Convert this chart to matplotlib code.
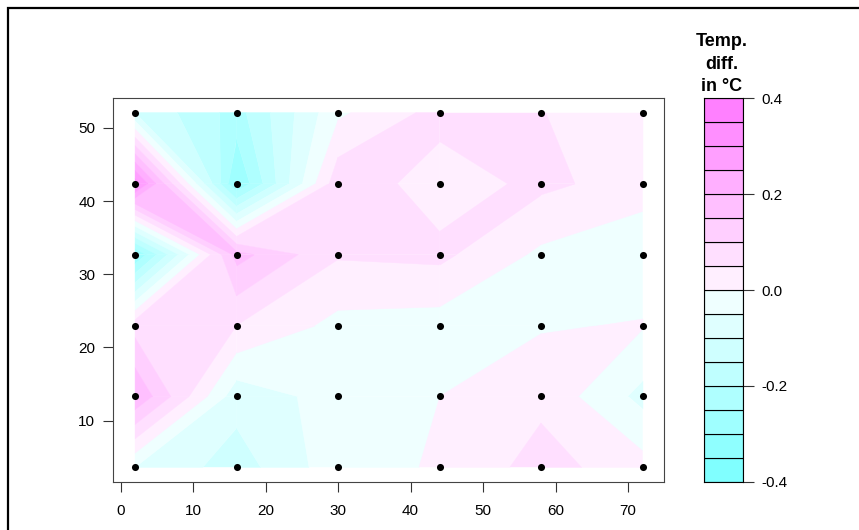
import numpy as np
import matplotlib
matplotlib.use('Agg')
import matplotlib.pyplot as plt
from matplotlib.colors import hsv_to_rgb
from matplotlib.patches import Rectangle
from matplotlib.collections import PolyCollection

plt.rcParams['font.family'] = ['Liberation Sans', 'DejaVu Sans']

# sensor grid
x_pos = [2, 16, 30, 44, 58, 72]
y_pos = [3.6, 13.3, 23.0, 32.7, 42.4, 52.1]

# temperature difference (degC), one list per row, bottom row first
row_y04 = [-0.05, -0.125, -0.02, 0.005, 0.07, 0.02]
row_y13 = [0.198, -0.08, -0.03, 0.0, 0.038, -0.065]
row_y23 = [0.08, 0.05, -0.015, -0.022, -0.005, 0.004]
row_y33 = [-0.30, 0.17, 0.055, 0.062, -0.01, -0.04]
row_y42 = [0.33, -0.30, 0.085, 0.025, 0.062, 0.026]
row_y52 = [-0.10, -0.22, -0.01, 0.068, 0.051, 0.03]

levels = np.arange(-0.4, 0.4001, 0.05)
cbar_ticks = [-0.4, -0.2, 0.0, 0.2, 0.4]


def cm_colors(n):
    # same as R's cm.colors() for even n
    k = n // 2
    s1 = np.linspace(0.5, 0.5 / k, k)
    s2 = np.linspace(0, 0.5, k + 1)[1:]
    return ([hsv_to_rgb((6 / 12, s, 1)) for s in s1] +
            [hsv_to_rgb((10 / 12, s, 1)) for s in s2])


def edge_points(lo, hi, p1, p2, z1, z2):
    pts = []
    if lo <= z1 <= hi:
        pts.append(p1)
    ts = []
    for lev in (lo, hi):
        if (z1 - lev) * (z2 - lev) < 0:
            ts.append((lev - z1) / (z2 - z1))
    for t in sorted(ts):
        pts.append((p1[0] + t * (p2[0] - p1[0]), p1[1] + t * (p2[1] - p1[1])))
    return pts


def filled_contour_polys(x, y, z, levels, cols):
    # cell-by-cell band polygons, same scheme as R's filled.contour()
    polys, fcs = [], []
    for i in range(len(x) - 1):
        for j in range(len(y) - 1):
            corners = [(x[i], y[j]), (x[i + 1], y[j]), (x[i + 1], y[j + 1]), (x[i], y[j + 1])]
            zc = [z[j, i], z[j, i + 1], z[j + 1, i + 1], z[j + 1, i]]
            for k in range(len(levels) - 1):
                pts = []
                for e in range(4):
                    pts += edge_points(levels[k], levels[k + 1], corners[e],
                                       corners[(e + 1) % 4], zc[e], zc[(e + 1) % 4])
                if len(pts) > 2:
                    polys.append(pts)
                    fcs.append(cols[k])
    return polys, fcs


z = np.array([row_y04, row_y13, row_y23, row_y33, row_y42, row_y52])
cols = cm_colors(len(levels) - 1)

fig = plt.figure(figsize=(8.59, 5.30), dpi=100)
ax = fig.add_axes([0.1319, 0.0911, 0.6414, 0.7234])
cax = fig.add_axes([0.8192, 0.0911, 0.0461, 0.7234])

polys, fcs = filled_contour_polys(x_pos, y_pos, z, levels, cols)
pc = PolyCollection(polys, facecolors=fcs, edgecolors=fcs, linewidths=0.3)
ax.add_collection(pc)
xx, yy = np.meshgrid(x_pos, y_pos)
ax.scatter(xx.ravel(), yy.ravel(), s=26, c='black', zorder=3, linewidths=0)

ax.set_xlim(-1.0, 75.0)
ax.set_ylim(1.65, 54.05)
ax.set_xticks(range(0, 71, 10))
ax.set_yticks(range(10, 51, 10))
ax.tick_params(axis='both', labelsize=11, length=7, width=0.8, color='#333333')
ax.tick_params(axis='x', pad=9)
ax.tick_params(axis='y', pad=6)
for sp in ax.spines.values():
    sp.set_linewidth(0.8)
    sp.set_color('#444444')

# colour key
cax.bar(0.5, np.diff(levels), bottom=levels[:-1], width=1.0, color=cols,
        edgecolor='black', linewidth=0.8)
cax.set_xlim(0, 1)
cax.set_ylim(levels[0], levels[-1])
cax.set_xticks([])
cax.yaxis.tick_right()
cax.set_yticks(cbar_ticks)
cax.set_yticklabels(['%.1f' % t for t in cbar_ticks])
cax.tick_params(axis='y', labelsize=11, length=8, width=0.8, pad=5, color='#333333')
for sp in cax.spines.values():
    sp.set_linewidth(0.8)
cax.text(0.45, 1.008, 'Temp.\ndiff.\nin °C', transform=cax.transAxes,
         ha='center', va='bottom', fontsize=13, fontweight='bold', linespacing=1.42)

# frame around the device region
fig.patches.append(Rectangle((8 / 859, -0.1), 1.2, 1 - 7.5 / 530 + 0.1,
                             transform=fig.transFigure, fill=False,
                             edgecolor='black', linewidth=1.6))

fig.savefig('out.png', dpi=100)
